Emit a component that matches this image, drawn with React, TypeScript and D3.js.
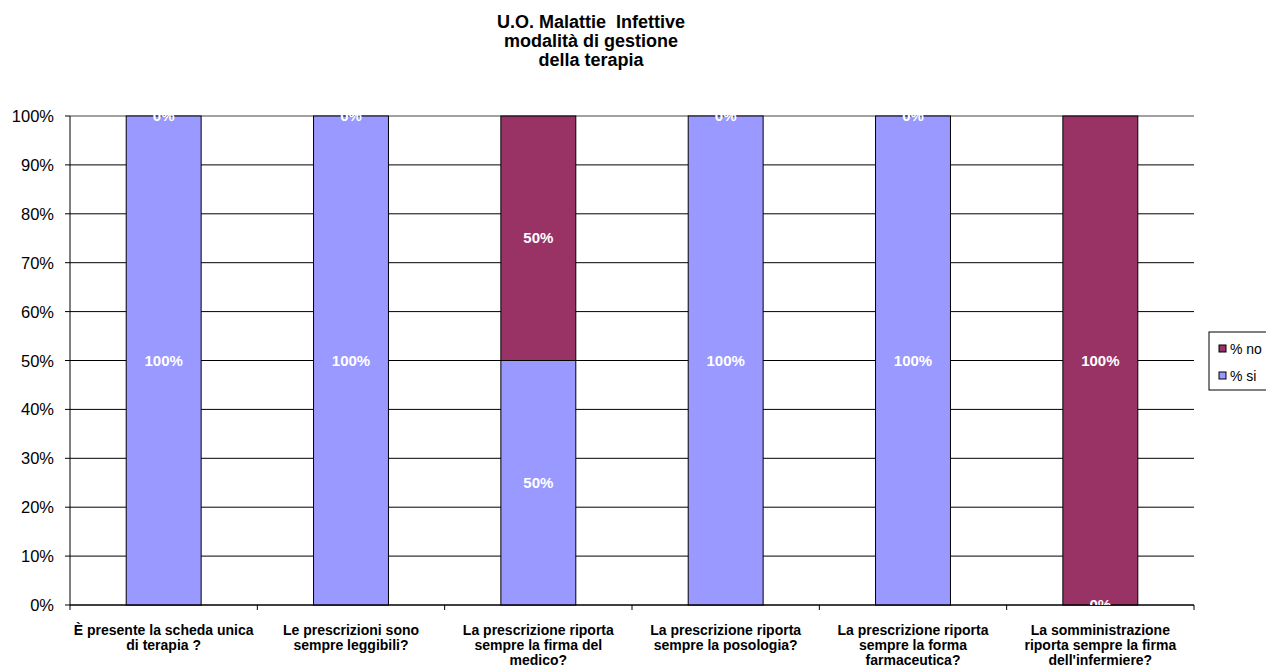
import React from "react";
import * as d3 from "d3";

const categories = [
  ["È presente la scheda unica", "di terapia ?"],
  ["Le prescrizioni sono", "sempre leggibili?"],
  ["La prescrizione riporta", "sempre la firma del", "medico?"],
  ["La prescrizione riporta", "sempre la posologia?"],
  ["La prescrizione riporta", "sempre la forma", "farmaceutica?"],
  ["La somministrazione", "riporta sempre la firma", "dell'infermiere?"],
];
const si = [100, 100, 50, 100, 100, 0];
const no = [0, 0, 50, 0, 0, 100];
const yTicks = [0, 10, 20, 30, 40, 50, 60, 70, 80, 90, 100];
const titleLines = ["U.O. Malattie  Infettive", "modalità di gestione", "della terapia"];

const W = 1266;
const H = 670;
const left = 70;
const right = 1194;
const top = 116;
const bottom = 605;
const font = "'Liberation Sans', Arial, sans-serif";

export default function App() {
  const x = d3.scaleBand<number>().domain(d3.range(categories.length)).range([left, right]).paddingInner(0).paddingOuter(0);
  const y = d3.scaleLinear().domain([0, 100]).range([bottom, top]);
  const bw = x.bandwidth() * 0.4;

  const series = [
    { key: "si", values: si, color: "#9999FF", base: (i: number) => 0 },
    { key: "no", values: no, color: "#993366", base: (i: number) => si[i] },
  ];

  return (
    <svg width={W} height={H} style={{ position: "absolute", left: 0, top: 0 }} fontFamily={font}>
      <defs>
        <clipPath id="plot">
          <rect x={left} y={top - 4} width={right - left} height={bottom - top + 4} />
        </clipPath>
      </defs>
      {titleLines.map((t, i) => (
        <text key={i} x={591} y={28 + i * 19} textAnchor="middle" fontSize={18} fontWeight="bold" style={{ whiteSpace: "pre" }}>
          {t}
        </text>
      ))}
      {yTicks.map((t) => (
        <g key={t}>
          <line x1={left} x2={right} y1={y(t)} y2={y(t)} stroke={t === 100 ? "#444" : "#000"} strokeWidth={1} />
          <line x1={left - 5} x2={left} y1={y(t)} y2={y(t)} stroke="#000" />
          <text x={54} y={y(t) + 6} textAnchor="end" fontSize={16.5}>
            {t}%
          </text>
        </g>
      ))}
      {series.map((s) =>
        s.values.map((v, i) => {
          const b = s.base(i);
          const cx = (x(i) as number) + x.bandwidth() / 2;
          return (
            <rect key={s.key + i} x={cx - bw / 2} width={bw} y={y(b + v)} height={y(b) - y(b + v)} fill={s.color} stroke="#000" strokeWidth={1} />
          );
        })
      )}
      <line x1={left} x2={left} y1={top} y2={bottom} stroke="#000" />
      <line x1={left} x2={right} y1={bottom} y2={bottom} stroke="#000" />
      {d3.range(categories.length + 1).map((i) => {
        const px = i < categories.length ? (x(i) as number) : right;
        return <line key={i} x1={px} x2={px} y1={bottom} y2={bottom + 5} stroke="#000" />;
      })}
      <g clipPath="url(#plot)">
        {series.map((s) =>
          s.values.map((v, i) => {
            const b = s.base(i);
            const cx = (x(i) as number) + x.bandwidth() / 2;
            return (
              <text key={s.key + "l" + i} x={cx} y={y(b + v / 2) + 5} textAnchor="middle" fill="#fff" fontWeight="bold" fontSize={15}>
                {v}%
              </text>
            );
          })
        )}
      </g>
      {categories.map((lines, i) => {
        const cx = (x(i) as number) + x.bandwidth() / 2;
        return (
          <text key={i} textAnchor="middle" fontWeight="bold" fontSize={14}>
            {lines.map((l, j) => (
              <tspan key={j} x={cx} y={635 + j * 15}>
                {l}
              </tspan>
            ))}
          </text>
        );
      })}
      <g>
        <rect x={1209} y={332} width={70} height={58} fill="#fff" stroke="#000" />
        <rect x={1219} y={345} width={7} height={7} fill="#993366" stroke="#000" />
        <text x={1230} y={354} fontSize={14}>% no</text>
        <rect x={1219} y={372} width={7} height={7} fill="#9999FF" stroke="#000" />
        <text x={1230} y={381} fontSize={14}>% si</text>
      </g>
    </svg>
  );
}
